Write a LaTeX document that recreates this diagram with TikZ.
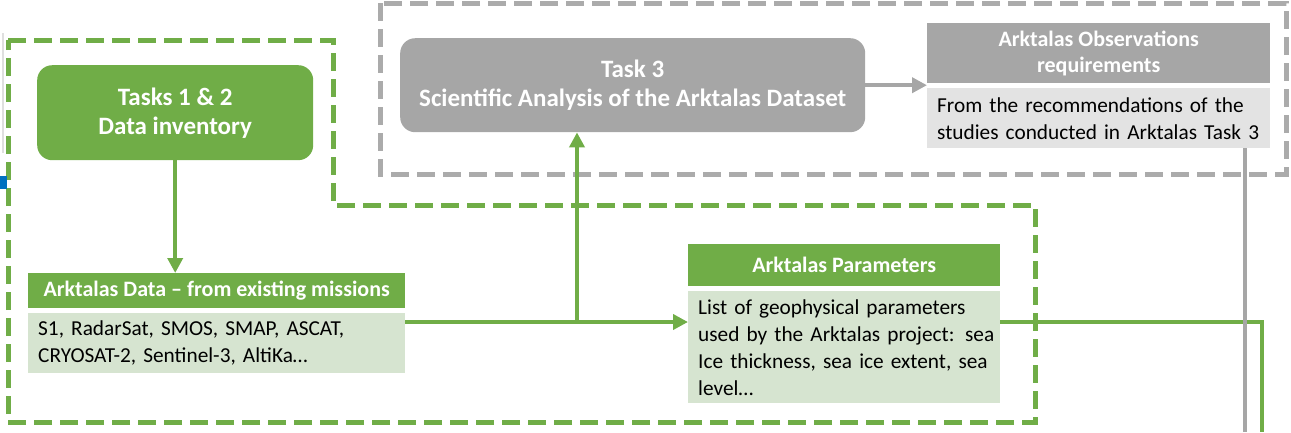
\documentclass[tikz,border=0pt]{standalone}
\usepackage{fontspec}
\setmainfont{Carlito}
\usetikzlibrary{arrows.meta}
\definecolor{leaf}{HTML}{70AD47}
\definecolor{leafpale}{HTML}{D6E4D0}
\definecolor{stone}{HTML}{A6A6A6}
\definecolor{stonepale}{HTML}{E3E3E3}
\definecolor{stonedash}{HTML}{ABABAB}
\definecolor{markblue}{HTML}{0070C0}
\tikzset{
  bigtitle/.style={rounded corners=15pt, text=white, align=center,
    font=\fontsize{25}{29}\selectfont\bfseries, anchor=north west},
  headbar/.style={text=white, align=center, inner sep=0pt,
    font=\fontsize{22}{26}\selectfont\bfseries, anchor=north west},
  bodybox/.style={align=left, inner xsep=10pt, inner ysep=0pt,
    font=\fontsize{21.3}{27}\selectfont, anchor=north west},
  leafline/.style={draw=leaf, line width=4pt},
  stoneline/.style={draw=stone, line width=4pt},
  tip/.style={-{Triangle[width=15pt,length=15pt]}},
  leafdash/.style={draw=leaf, line width=5pt, dash pattern=on 18pt off 8pt},
  stonedashed/.style={draw=stonedash, line width=5pt, dash pattern=on 18pt off 8pt}
}
\begin{document}
\begin{tikzpicture}[x=1pt,y=-1pt]
\useasboundingbox (0,0) rectangle (1291,432);

% group outlines
\draw[leafdash] (8,40) -- (333,40) -- (333,205) -- (1035,205) -- (1035,422) -- (8,422) -- cycle;
\draw[stonedashed] (380,3) rectangle (1286,174);

% fragments at the left margin
\draw[gray!25, line width=1.5pt] (3,33) -- (3,153);
\fill[markblue] (0,176) rectangle (7,189);

% boxes
\node[bigtitle, fill=leaf, minimum width=276pt, minimum height=95pt] (t12) at (37,65)
  {Tasks 1 \& 2\\Data inventory};
\node[bigtitle, fill=stone, minimum width=465pt, minimum height=94pt] (t3) at (400,38)
  {Task 3\\Scientific Analysis of the Arktalas Dataset};

\node[headbar, fill=leaf, minimum width=377pt, minimum height=35pt] (dh) at (28,273)
  {Arktalas Data -- from existing missions};
\node[bodybox, fill=leafpale, text width=357pt, minimum height=60pt] (db) at (28,313)
  {\mbox{S1, RadarSat, SMOS, SMAP, ASCAT,}\\\mbox{CRYOSAT-2, Sentinel-3, AltiKa\dots}};

\node[headbar, fill=leaf, minimum width=312pt, minimum height=42pt] (ph) at (688,244)
  {Arktalas Parameters};
\node[bodybox, fill=leafpale, text width=292pt, minimum height=112pt] (pb) at (688,291)
  {\mbox{List of geophysical parameters}\\\mbox{used by the Arktalas project: sea}\\
   \mbox{Ice thickness, sea ice extent, sea}\\\mbox{level\dots}};

\node[headbar, fill=stone, minimum width=343pt, minimum height=60pt] (oh) at (927,23)
  {Arktalas Observations\\requirements};
\node[bodybox, fill=stonepale, text width=323pt, minimum height=60pt] (ob) at (927,88)
  {\mbox{From the recommendations of the}\\\mbox{studies conducted in Arktalas Task 3}};

% connectors
\coordinate (split) at (577,322);
\coordinate (leafend) at (1262,432);
\coordinate (stoneend) at (1245,432);

\draw[leafline, tip] (t12.south) -- (t12.south |- dh.north);
\draw[leafline, tip] (db.east |- split) -- (pb.west |- split);
\draw[leafline, tip] (split) -- (t3.south -| split);
\draw[leafline] (pb.east |- split) -| (leafend);
\draw[stoneline, tip] (t3.east) -- (oh.west |- t3.east);
\draw[stoneline] (ob.south -| stoneend) -- (stoneend);
\end{tikzpicture}
\end{document}
